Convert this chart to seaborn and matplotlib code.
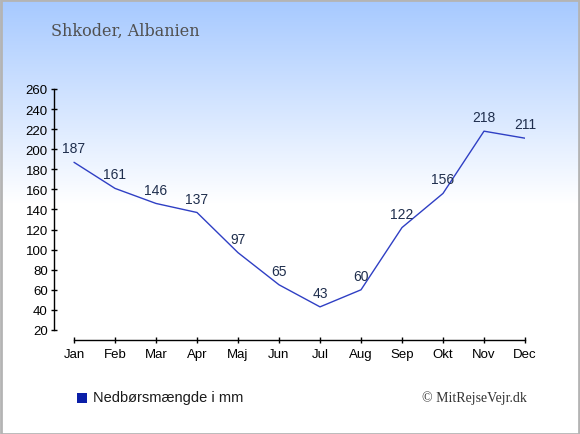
import numpy as np
import pandas as pd
import matplotlib
matplotlib.use("Agg")
import matplotlib.pyplot as plt
import seaborn as sns

months = ["Jan", "Feb", "Mar", "Apr", "Maj", "Jun", "Jul", "Aug", "Sep", "Okt", "Nov", "Dec"]
rain = [187, 161, 146, 137, 97, 65, 43, 60, 122, 156, 218, 211]
yticks = list(range(20, 261, 20))
title = "Shkoder, Albanien"
legend_label = "Nedbørsmængde i mm"
credit = "© MitRejseVejr.dk"

sns.set_style("white")
plt.rcParams["font.family"] = ["Liberation Sans", "DejaVu Sans"]

W, H = 580, 435
fig = plt.figure(figsize=(W / 100, H / 100), dpi=100)

# gradient background
bg = fig.add_axes([0, 0, 1, 1])
bg.set_axis_off()
top = np.array([0xA6, 0xC9, 0xFF]) / 255
bot = np.array([1.0, 1.0, 1.0])
n = 435
t = np.clip(np.linspace(0, 1, n) / 0.47, 0, 1)[:, None]
grad = top * (1 - t) + bot * t
bg.imshow(grad[:, None, :].repeat(2, axis=1), aspect="auto", extent=[0, 1, 0, 1], origin="upper")
bg.set_xlim(0, 1)
bg.set_ylim(0, 1)
bg.add_patch(plt.Rectangle((0.5 / W, 0.5 / H), 1 - 1.5 / W, 1 - 1.5 / H, fill=False,
                           edgecolor="#b4b4b4", linewidth=2, transform=bg.transAxes))

x0, x1 = 74, 525
step = (x1 - x0) / 11
left_px = 54
xl = -(x0 - left_px) / step
ax = fig.add_axes([left_px / W, (H - 341) / H, (x1 - left_px) / W, (341 - 90) / H])
ax.patch.set_alpha(0)

df = pd.DataFrame({"m": np.arange(12), "v": rain})
sns.lineplot(data=df, x="m", y="v", ax=ax, color="#2f3fc4", linewidth=1.0)

for i, v in enumerate(rain):
    ax.annotate(str(v), (i, v), xytext=(0, 5), textcoords="offset points",
                ha="center", va="bottom", fontsize=10, color="#1f2e4d")

ax.set_xlim(xl, 11)
ax.set_ylim(10, 260)
ax.set_xticks(range(12))
ax.set_xticklabels(months)
ax.set_yticks(yticks)
ax.set_xlabel("")
ax.set_ylabel("")
for s in ["top", "right"]:
    ax.spines[s].set_visible(False)
ax.spines["left"].set_bounds(20, 260)
ax.spines["bottom"].set_bounds(0, 11)
for s in ["left", "bottom"]:
    ax.spines[s].set_color("black")
    ax.spines[s].set_linewidth(1)
ax.tick_params(axis="both", which="both", bottom=True, left=True, width=1, color="black",
               labelsize=9.5, labelcolor="black")
ax.tick_params(axis="x", direction="inout", length=5, pad=3)
ax.tick_params(axis="y", direction="inout", length=5, pad=2)

fig.text(51 / W, 1 - 31 / H, title, fontsize=11.5, color="#505050",
         family=["DejaVu Serif"], va="center", ha="left")

fig.patches.append(plt.Rectangle((77 / W, 1 - 404 / H), 10 / W, 10 / H, transform=fig.transFigure,
                                 facecolor="#0b1fa8", edgecolor="none"))
fig.text(93 / W, 1 - 398 / H, legend_label, fontsize=10.5, color="#1a1a1a", va="center", ha="left")
fig.text(527 / W, 1 - 398 / H, credit, fontsize=10, color="#333333",
         family=["Liberation Serif", "DejaVu Serif"], va="center", ha="right")

fig.savefig("out.png", dpi=100)
